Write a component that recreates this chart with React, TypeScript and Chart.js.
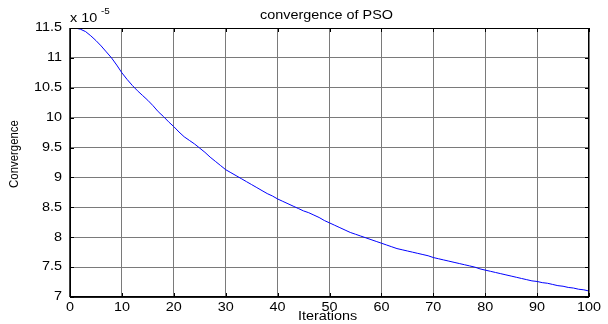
import React, { useEffect, useRef } from "react";
import { Chart, registerables } from "chart.js";

Chart.register(...registerables);

const iterations: number[] = Array.from({ length: 101 }, (_, i) => i);
const convergence: number[] = [
  11.5, 11.5, 11.48, 11.44, 11.37, 11.29, 11.2, 11.1, 11.0, 10.88,
  10.75, 10.64, 10.54, 10.45, 10.37, 10.29, 10.2, 10.1, 10.02, 9.93,
  9.85, 9.76, 9.68, 9.62, 9.56, 9.49, 9.42, 9.34, 9.27, 9.2,
  9.13, 9.08, 9.03, 8.98, 8.93, 8.88, 8.83, 8.78, 8.73, 8.69,
  8.64, 8.6, 8.56, 8.52, 8.48, 8.44, 8.41, 8.37, 8.33, 8.28,
  8.24, 8.2, 8.16, 8.12, 8.08, 8.05, 8.02, 7.99, 7.96, 7.93,
  7.9, 7.87, 7.84, 7.81, 7.79, 7.77, 7.75, 7.73, 7.71, 7.69,
  7.66, 7.64, 7.62, 7.6, 7.58, 7.56, 7.54, 7.52, 7.5, 7.47,
  7.45, 7.43, 7.41, 7.39, 7.37, 7.35, 7.33, 7.31, 7.29, 7.27,
  7.26, 7.24, 7.23, 7.21, 7.19, 7.18, 7.16, 7.15, 7.13, 7.12,
  7.1,
];
const xTicks: number[] = [0, 10, 20, 30, 40, 50, 60, 70, 80, 90, 100];
const yTicks: number[] = [7, 7.5, 8, 8.5, 9, 9.5, 10, 10.5, 11, 11.5];
const titleText = "convergence of PSO";
const xLabel = "Iterations";
const yLabel = "Convergence";

const FONT = "'Liberation Sans', Arial, sans-serif";
const STRETCH = 1.2;

function stretchedText(
  ctx: CanvasRenderingContext2D,
  text: string,
  x: number,
  y: number,
  size: number,
  align: CanvasTextAlign,
  sx = STRETCH
) {
  ctx.save();
  ctx.font = `${size}px ${FONT}`;
  ctx.textAlign = align;
  ctx.textBaseline = "middle";
  ctx.translate(x, y);
  ctx.scale(sx, 1);
  ctx.fillText(text, 0, 0);
  ctx.restore();
}

const matlabPlugin = {
  id: "matlabFrame",
  afterDraw(chart: any) {
    const { ctx, chartArea } = chart;
    const { left, right, top, bottom } = chartArea;
    const xs = chart.scales.x;
    const ys = chart.scales.y;
    ctx.save();
    // frame
    ctx.strokeStyle = "#000";
    ctx.lineWidth = 1;
    ctx.strokeRect(left + 0.5, top + 0.5, right - left - 1, bottom - top - 1);
    ctx.lineWidth = 1.5;
    ctx.beginPath();
    ctx.moveTo(left, bottom);
    ctx.lineTo(right, bottom);
    ctx.moveTo(left, top);
    ctx.lineTo(left, bottom);
    ctx.stroke();
    // inward ticks
    ctx.lineWidth = 1;
    const tl = 4;
    ctx.beginPath();
    xTicks.forEach((v) => {
      const px = Math.round(xs.getPixelForValue(v)) + 0.5;
      ctx.moveTo(px, bottom);
      ctx.lineTo(px, bottom - tl);
      ctx.moveTo(px, top);
      ctx.lineTo(px, top + tl);
    });
    yTicks.forEach((v) => {
      const py = Math.round(ys.getPixelForValue(v)) + 0.5;
      ctx.moveTo(left, py);
      ctx.lineTo(left + tl, py);
      ctx.moveTo(right, py);
      ctx.lineTo(right - tl, py);
    });
    ctx.stroke();
    ctx.fillStyle = "#000";
    // tick labels
    xTicks.forEach((v) => {
      stretchedText(ctx, String(v), xs.getPixelForValue(v), bottom + 10.5, 12, "center");
    });
    yTicks.forEach((v) => {
      stretchedText(ctx, String(v), left - 8, ys.getPixelForValue(v), 12, "right");
    });
    // title
    stretchedText(ctx, titleText, (left + right) / 2 - 3, 16, 12, "center");
    // x label
    stretchedText(ctx, xLabel, (left + right) / 2 - 2, 317, 12, "center");
    // y label
    ctx.save();
    ctx.translate(15, 154);
    ctx.rotate(-Math.PI / 2);
    ctx.font = `12px ${FONT}`;
    ctx.textAlign = "center";
    ctx.textBaseline = "middle";
    ctx.scale(0.95, 1);
    ctx.fillText(yLabel, 0, 0);
    ctx.restore();
    // exponent
    stretchedText(ctx, "x 10", left, 19, 12, "left");
    stretchedText(ctx, "-5", left + 31, 12, 9, "left", 1.1);
    ctx.restore();
  },
};

export default function App() {
  const ref = useRef<HTMLCanvasElement | null>(null);
  useEffect(() => {
    document.body.style.margin = "0";
    const canvas = ref.current;
    if (!canvas) return;
    const chart = new Chart(canvas, {
      type: "line",
      data: {
        labels: iterations,
        datasets: [
          {
            data: iterations.map((x, i) => ({ x, y: convergence[i] })),
            borderColor: "#0000ff",
            borderWidth: 1,
            pointRadius: 0,
            tension: 0,
            fill: false,
          },
        ],
      },
      options: {
        animation: false,
        responsive: false,
        maintainAspectRatio: false,
        layout: { padding: { left: 0, right: 19, top: 28, bottom: 0 } },
        plugins: {
          legend: { display: false },
          title: { display: false },
          tooltip: { enabled: false },
        },
        scales: {
          x: {
            type: "linear",
            min: 0,
            max: 100,
            afterBuildTicks: (s: any) => {
              s.ticks = xTicks.map((v) => ({ value: v }));
            },
            afterFit: (s: any) => {
              s.height = 27;
            },
            ticks: { display: false },
            grid: { color: "#7a7a7a", lineWidth: 1, drawTicks: false },
            border: { display: false },
          },
          y: {
            type: "linear",
            min: 7,
            max: 11.5,
            afterBuildTicks: (s: any) => {
              s.ticks = yTicks.map((v) => ({ value: v }));
            },
            afterFit: (s: any) => {
              s.width = 70;
            },
            ticks: { display: false },
            grid: { color: "#7a7a7a", lineWidth: 1, drawTicks: false },
            border: { display: false },
          },
        },
      },
      plugins: [matlabPlugin],
    });
    return () => chart.destroy();
  }, []);
  return (
    <div style={{ position: "absolute", left: 0, top: 0, width: 608, height: 324, background: "#fff" }}>
      <canvas ref={ref} width={608} height={324} style={{ width: 608, height: 324 }} />
    </div>
  );
}
